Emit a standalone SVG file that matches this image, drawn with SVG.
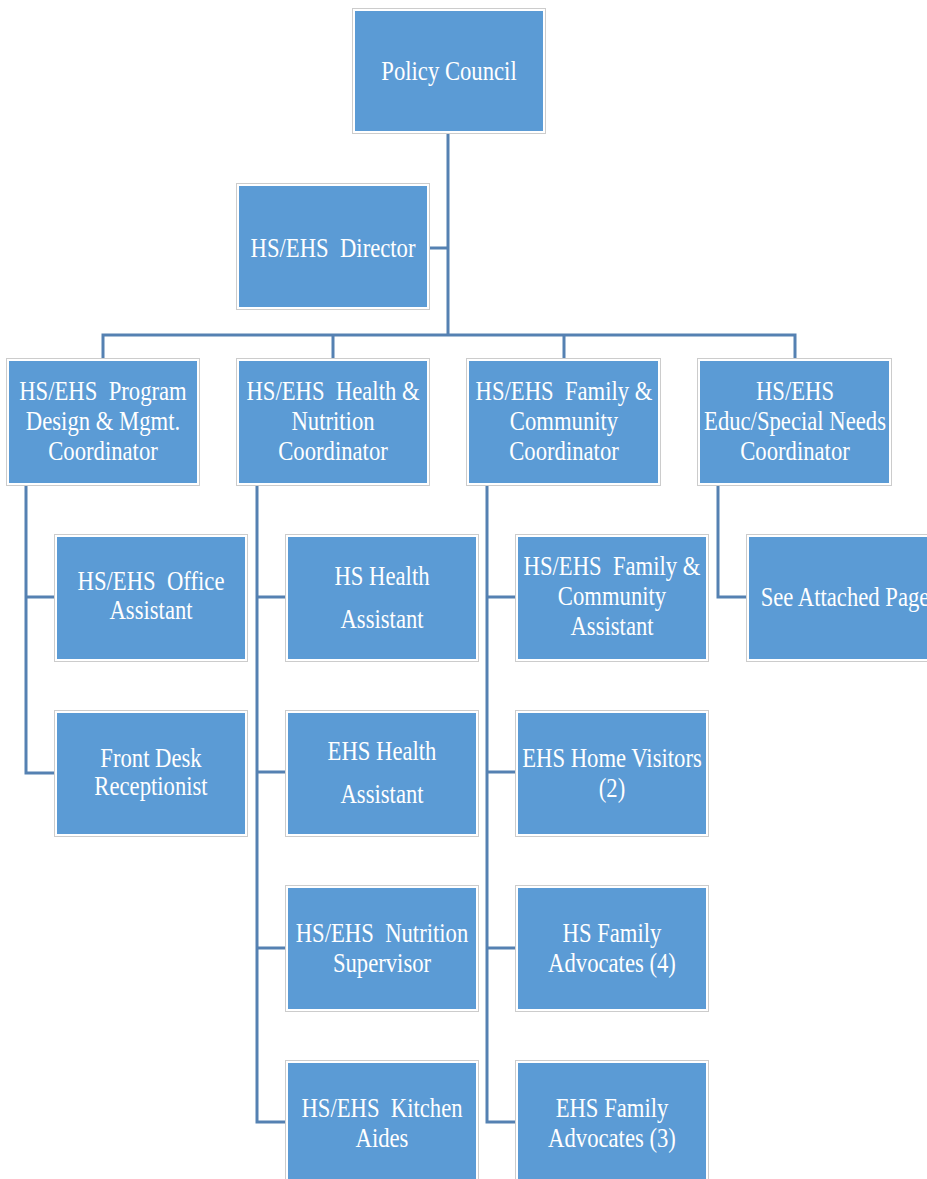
<svg xmlns="http://www.w3.org/2000/svg" width="927" height="1179" viewBox="0 0 927 1179">
<style>
.o{fill:#fff;stroke:#cccccc;stroke-width:1}
.f{fill:#5B9BD5}
.c{fill:none;stroke:#5581B2;stroke-width:3;stroke-linejoin:miter;stroke-linecap:butt}
text{font-family:"Liberation Serif","Times New Roman",serif;font-size:27px;fill:#ffffff;text-anchor:middle}
</style>
<rect width="927" height="1179" fill="#ffffff"/>
<g id="connectors">
<path class="c" d="M448,133 V335 M429,248 H448 M103,359 V335 H795 V359 M333,335 V359 M564,335 V359"/>
<path class="c" d="M54,597 H26 V485 M26,597 V773 H54"/>
<path class="c" d="M257,485 V1122 H286 M257,597 H286 M257,772 H286 M257,948 H286"/>
<path class="c" d="M487,485 V1122 H516 M487,597 H516 M487,772 H516 M487,948 H516"/>
<path class="c" d="M718,485 V597 H747"/>
</g>
<g id="policy-council">
<rect class="o" x="352.5" y="8.5" width="193" height="125"/><rect class="f" x="355" y="11" width="188" height="120"/>
<text transform="translate(449 0) scale(.84 1)"><tspan x="0" y="80">Policy Council</tspan></text>
</g>
<g id="director">
<rect class="o" x="236.5" y="183.5" width="193" height="126"/><rect class="f" x="239" y="186" width="188" height="121"/>
<text transform="translate(333 0) scale(.84 1)" xml:space="preserve"><tspan x="0" y="257">HS/EHS  Director</tspan></text>
</g>
<g id="coord-program">
<rect class="o" x="6.5" y="358.5" width="193" height="127"/><rect class="f" x="9" y="361" width="188" height="122"/>
<text transform="translate(103 0) scale(.84 1)" xml:space="preserve"><tspan x="0" y="400">HS/EHS  Program</tspan><tspan x="0" y="430">Design &amp; Mgmt.</tspan><tspan x="0" y="460">Coordinator</tspan></text>
</g>
<g id="coord-health">
<rect class="o" x="236.5" y="358.5" width="193" height="127"/><rect class="f" x="239" y="361" width="188" height="122"/>
<text transform="translate(333 0) scale(.84 1)" xml:space="preserve"><tspan x="0" y="400">HS/EHS  Health &amp;</tspan><tspan x="0" y="430">Nutrition</tspan><tspan x="0" y="460">Coordinator</tspan></text>
</g>
<g id="coord-family">
<rect class="o" x="466.5" y="358.5" width="194" height="127"/><rect class="f" x="469" y="361" width="189" height="122"/>
<text transform="translate(564 0) scale(.84 1)" xml:space="preserve"><tspan x="0" y="400">HS/EHS  Family &amp;</tspan><tspan x="0" y="430">Community</tspan><tspan x="0" y="460">Coordinator</tspan></text>
</g>
<g id="coord-educ">
<rect class="o" x="697.5" y="358.5" width="194" height="127"/><rect class="f" x="700" y="361" width="189" height="122"/>
<text transform="translate(795 0) scale(.84 1)"><tspan x="0" y="400">HS/EHS</tspan><tspan x="0" y="430">Educ/Special Needs</tspan><tspan x="0" y="460">Coordinator</tspan></text>
</g>
<g id="office-assistant">
<rect class="o" x="54.5" y="534.5" width="193" height="127"/><rect class="f" x="57" y="537" width="188" height="122"/>
<text transform="translate(151 0) scale(.84 1)" xml:space="preserve"><tspan x="0" y="590">HS/EHS  Office</tspan><tspan x="0" y="619">Assistant</tspan></text>
</g>
<g id="front-desk">
<rect class="o" x="54.5" y="710.5" width="193" height="126"/><rect class="f" x="57" y="713" width="188" height="121"/>
<text transform="translate(151 0) scale(.84 1)"><tspan x="0" y="767">Front Desk</tspan><tspan x="0" y="795">Receptionist</tspan></text>
</g>
<g id="hs-health-assistant">
<rect class="o" x="285.5" y="534.5" width="193" height="127"/><rect class="f" x="288" y="537" width="188" height="122"/>
<text transform="translate(382 0) scale(.84 1)"><tspan x="0" y="585">HS Health</tspan><tspan x="0" y="628">Assistant</tspan></text>
</g>
<g id="ehs-health-assistant">
<rect class="o" x="285.5" y="710.5" width="193" height="126"/><rect class="f" x="288" y="713" width="188" height="121"/>
<text transform="translate(382 0) scale(.84 1)"><tspan x="0" y="760">EHS Health</tspan><tspan x="0" y="803">Assistant</tspan></text>
</g>
<g id="nutrition-supervisor">
<rect class="o" x="285.5" y="885.5" width="193" height="126"/><rect class="f" x="288" y="888" width="188" height="121"/>
<text transform="translate(382 0) scale(.84 1)" xml:space="preserve"><tspan x="0" y="942">HS/EHS  Nutrition</tspan><tspan x="0" y="972">Supervisor</tspan></text>
</g>
<g id="kitchen-aides">
<rect class="o" x="285.5" y="1060.5" width="193" height="130"/><rect class="f" x="288" y="1063" width="188" height="125"/>
<text transform="translate(382 0) scale(.84 1)" xml:space="preserve"><tspan x="0" y="1117">HS/EHS  Kitchen</tspan><tspan x="0" y="1147">Aides</tspan></text>
</g>
<g id="family-community-assistant">
<rect class="o" x="515.5" y="534.5" width="193" height="127"/><rect class="f" x="518" y="537" width="188" height="122"/>
<text transform="translate(612 0) scale(.84 1)" xml:space="preserve"><tspan x="0" y="575">HS/EHS  Family &amp;</tspan><tspan x="0" y="605">Community</tspan><tspan x="0" y="635">Assistant</tspan></text>
</g>
<g id="ehs-home-visitors">
<rect class="o" x="515.5" y="710.5" width="193" height="126"/><rect class="f" x="518" y="713" width="188" height="121"/>
<text transform="translate(612 0) scale(.84 1)"><tspan x="0" y="767">EHS Home Visitors</tspan><tspan x="0" y="797">(2)</tspan></text>
</g>
<g id="hs-family-advocates">
<rect class="o" x="515.5" y="885.5" width="193" height="126"/><rect class="f" x="518" y="888" width="188" height="121"/>
<text transform="translate(612 0) scale(.84 1)"><tspan x="0" y="942">HS Family</tspan><tspan x="0" y="972">Advocates (4)</tspan></text>
</g>
<g id="ehs-family-advocates">
<rect class="o" x="515.5" y="1060.5" width="193" height="130"/><rect class="f" x="518" y="1063" width="188" height="125"/>
<text transform="translate(612 0) scale(.84 1)"><tspan x="0" y="1117">EHS Family</tspan><tspan x="0" y="1147">Advocates (3)</tspan></text>
</g>
<g id="see-attached-page">
<rect class="o" x="746.5" y="534.5" width="193" height="127"/><rect class="f" x="749" y="537" width="188" height="122"/>
<text transform="translate(845 0) scale(.84 1)"><tspan x="0" y="606">See Attached Page</tspan></text>
</g>
</svg>
